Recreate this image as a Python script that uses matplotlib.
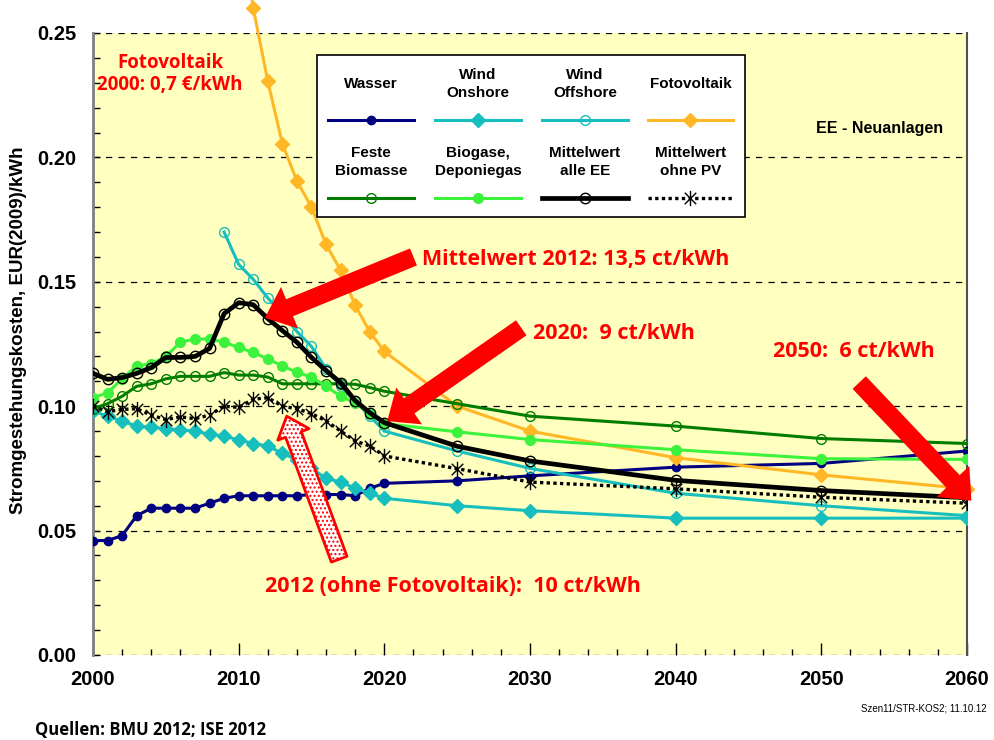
import numpy as np
import matplotlib
matplotlib.use('Agg')
import matplotlib.pyplot as plt
from matplotlib.patches import Rectangle
from matplotlib.path import Path
from matplotlib.ticker import MultipleLocator, FormatStrFormatter

plt.rcParams['font.family'] = ['Liberation Sans', 'DejaVu Sans']
plt.rcParams['font.weight'] = 'bold'

nan = np.nan
jahre = list(range(2000, 2021)) + [2025, 2030, 2040, 2050, 2060]

wasser = [0.046, 0.046, 0.048, 0.056, 0.059, 0.059, 0.059, 0.059, 0.061, 0.063,
          0.064, 0.064, 0.064, 0.064, 0.064, 0.0645, 0.0645, 0.0645, 0.064, 0.067,
          0.069, 0.070, 0.072, 0.0755, 0.077, 0.082]
wind_on = [0.098, 0.096, 0.094, 0.092, 0.0915, 0.091, 0.0905, 0.090, 0.0887, 0.088,
           0.0865, 0.085, 0.084, 0.081, 0.0785, 0.075, 0.071, 0.0695, 0.067, 0.065,
           0.063, 0.060, 0.058, 0.055, 0.055, 0.055]
wind_off = [nan] * 9 + [0.170, 0.157, 0.151, 0.1435, 0.137, 0.130, 0.124, 0.115,
                        0.108, 0.102, 0.096, 0.090, 0.082, 0.075, 0.065, 0.060, 0.056]
foto = [nan] * 10 + [0.300, 0.260, 0.2306, 0.2055, 0.1905, 0.180, 0.165, 0.1546,
                     0.1405, 0.130, 0.122, 0.100, 0.090, 0.0793, 0.0724, 0.0668]
biomasse = [0.099, 0.101, 0.104, 0.108, 0.109, 0.111, 0.112, 0.112, 0.112, 0.1135,
            0.1125, 0.1125, 0.1117, 0.109, 0.109, 0.109, 0.109, 0.109, 0.1088, 0.1075,
            0.106, 0.101, 0.096, 0.092, 0.087, 0.085]
biogas = [0.1034, 0.1054, 0.111, 0.1162, 0.117, 0.120, 0.1257, 0.127, 0.127, 0.1257,
          0.1236, 0.1216, 0.119, 0.1162, 0.1136, 0.1117, 0.108, 0.104, 0.1014, 0.097,
          0.093, 0.0897, 0.0866, 0.0825, 0.0789, 0.0786]
mittel = [0.1132, 0.1108, 0.1115, 0.1132, 0.1155, 0.1196, 0.1196, 0.120, 0.1232, 0.1372,
          0.1416, 0.1408, 0.1352, 0.1304, 0.1257, 0.1196, 0.1143, 0.1095, 0.1022, 0.0974,
          0.0934, 0.0839, 0.078, 0.0702, 0.0661, 0.0632]
mittel_ohne_pv = [0.100, 0.0978, 0.0987, 0.099, 0.0964, 0.0946, 0.0957, 0.095, 0.0964, 0.100,
                  0.0995, 0.1028, 0.1034, 0.100, 0.099, 0.097, 0.0941, 0.090, 0.086, 0.084,
                  0.080, 0.0749, 0.0695, 0.0668, 0.0634, 0.061]

# Sternchen wie in Excel: senkrecht + X
stern = Path([(0, -1), (0, 1), (-0.75, -0.75), (0.75, 0.75), (-0.75, 0.75), (0.75, -0.75)],
             [Path.MOVETO, Path.LINETO, Path.MOVETO, Path.LINETO, Path.MOVETO, Path.LINETO])

reihen = [
    ('Wasser', wasser, dict(color='#000080', lw=2.2, marker='o', ms=6, mfc='#000080', mec='#000080')),
    ('Wind\nOnshore', wind_on, dict(color='#17BEBE', lw=2.2, marker='D', ms=7.5, mfc='#17BEBE', mec='#17BEBE')),
    ('Wind\nOffshore', wind_off, dict(color='#17BEBE', lw=2.2, marker='o', ms=7, mfc='none', mec='#17BEBE', mew=1)),
    ('Fotovoltaik', foto, dict(color='#FFB726', lw=2.2, marker='D', ms=7.5, mfc='#FFB726', mec='#FFB726')),
    ('Feste\nBiomasse', biomasse, dict(color='#007D00', lw=2.2, marker='o', ms=7, mfc='none', mec='#007D00', mew=1)),
    ('Biogase,\nDeponiegas', biogas, dict(color='#3CF23C', lw=2.2, marker='o', ms=7, mfc='#3CF23C', mec='#3CF23C')),
    ('Mittelwert\nohne PV', mittel_ohne_pv, dict(color='black', lw=2.4, ls=(0, (1, 1)), marker=stern, ms=11, mew=1, mfc='none', mec='black')),
    ('Mittelwert\nalle EE', mittel, dict(color='black', lw=3.4, marker='o', ms=7.5, mfc='none', mec='black', mew=1)),
]

fig = plt.figure(figsize=(9.94, 7.40), dpi=100)
ax = fig.add_axes([93 / 994, 1 - 655 / 740, 874 / 994, 622 / 740])
ax.set_facecolor('#FFFFC0')

for name, werte, stil in reihen:
    ax.plot(jahre, werte, clip_on=(name != 'Fotovoltaik'), zorder=3, **stil)

ax.set_xlim(2000, 2060)
ax.set_ylim(0, 0.25)
ax.xaxis.set_major_locator(MultipleLocator(10))
ax.xaxis.set_minor_locator(MultipleLocator(2))
ax.yaxis.set_major_locator(MultipleLocator(0.05))
ax.yaxis.set_minor_locator(MultipleLocator(0.01))
ax.yaxis.set_major_formatter(FormatStrFormatter('%.2f'))
ax.tick_params(axis='x', which='major', direction='in', length=9, width=1, pad=11, labelsize=14.5)
ax.tick_params(axis='x', which='minor', direction='in', length=4.5, width=1)
ax.tick_params(axis='y', which='both', direction='in', length=5, width=1, pad=12, labelsize=14.5)
ax.yaxis.grid(True, which='major', ls=(0, (5, 5)), color='black', lw=0.9)
ax.set_axisbelow(True)
ax.spines['top'].set_visible(False)
ax.spines['bottom'].set_visible(False)
ax.spines['left'].set_color('#808080')
ax.spines['left'].set_linewidth(2)
ax.spines['right'].set_color('#505050')
ax.spines['right'].set_linewidth(1.5)

fig.text(0.019, 0.554, 'Stromgestehungskosten, EUR(2009)/kWh', rotation=90,
         ha='center', va='center', fontsize=13.5)

# Legende (Text ueber der Linie)
ax.add_patch(Rectangle((0.256, 0.704), 0.49, 0.261, transform=ax.transAxes,
                       facecolor='white', edgecolor='black', lw=1.2, zorder=5))
spalten = [0.318, 0.4405, 0.563, 0.6835]
legende = ['Wasser', 'Wind\nOnshore', 'Wind\nOffshore', 'Fotovoltaik',
           'Feste\nBiomasse', 'Biogase,\nDeponiegas', 'Mittelwert\nalle EE', 'Mittelwert\nohne PV']
stile = {name: stil for name, werte, stil in reihen}
for i, name in enumerate(legende):
    xc = spalten[i % 4]
    ytext, ylin = (0.918, 0.860) if i < 4 else (0.7926, 0.7347)
    ax.text(xc, ytext, name, transform=ax.transAxes, ha='center', va='center',
            fontsize=11, linespacing=1.35, zorder=6)
    st = dict(stile[name])
    ax.plot([xc - 0.049, xc + 0.049], [ylin, ylin], transform=ax.transAxes,
            clip_on=False, zorder=6, **{k: v for k, v in st.items() if k not in ('marker', 'ms', 'mfc', 'mec', 'mew')})
    ax.plot([xc], [ylin], transform=ax.transAxes, ls='none', clip_on=False, zorder=7,
            marker=st['marker'], ms=st['ms'], mfc=st['mfc'], mec=st['mec'], mew=st.get('mew', 1))

ax.text(0.90, 0.847, 'EE - Neuanlagen', transform=ax.transAxes, ha='center', va='center', fontsize=11.5)

rot = '#FF0000'
rfont = ['Open Sans', 'DejaVu Sans']
ax.text(2005.3, 0.2335, 'Fotovoltaik\n2000: 0,7 €/kWh', ha='center', va='center', color=rot,
        fontsize=13.5, family=rfont, linespacing=1.15)
ax.text(2022.6, 0.1589, 'Mittelwert 2012: 13,5 ct/kWh', ha='left', va='center', color=rot, fontsize=15.5, family=rfont)
ax.text(2030.2, 0.1294, '2020:  9 ct/kWh', ha='left', va='center', color=rot, fontsize=15.5, family=rfont)
ax.text(2046.7, 0.1218, '2050:  6 ct/kWh', ha='left', va='center', color=rot, fontsize=15.5, family=rfont)
ax.text(2011.8, 0.0275, '2012 (ohne Fotovoltaik):  10 ct/kWh', ha='left', va='center', color=rot, fontsize=15.5, family=rfont)

pfeil = 'simple,head_length=0.8,head_width=1.35,tail_width=0.55'
for start, ziel in [((2022.0, 0.1600), (2011.8, 0.1355)),
                    ((2029.4, 0.1315), (2020.2, 0.0940)),
                    ((2052.6, 0.1095), (2060.3, 0.0620))]:
    ax.annotate('', xy=ziel, xytext=start, annotation_clip=False, zorder=8,
                arrowprops=dict(arrowstyle=pfeil, mutation_scale=24, fc=rot, ec='none',
                                shrinkA=0, shrinkB=0, clip_on=False))
ax.annotate('', xy=(2013.3, 0.0960), xytext=(2016.9, 0.0385), zorder=8,
            arrowprops=dict(arrowstyle='simple,head_length=0.7,head_width=1.2,tail_width=0.6',
                            mutation_scale=20, fc='white', ec=rot, lw=2, hatch='....',
                            shrinkA=0, shrinkB=0))

fig.text(0.993, 0.043, 'Szen11/STR-KOS2; 11.10.12', ha='right', va='center', fontsize=7,
         fontweight='normal', family=['Liberation Sans Narrow', 'Liberation Sans'])
fig.text(0.035, 0.014, 'Quellen: BMU 2012; ISE 2012', ha='left', va='center', fontsize=12,
         family=['Liberation Sans Narrow', 'Open Sans'])

fig.savefig('out.png', dpi=100)
